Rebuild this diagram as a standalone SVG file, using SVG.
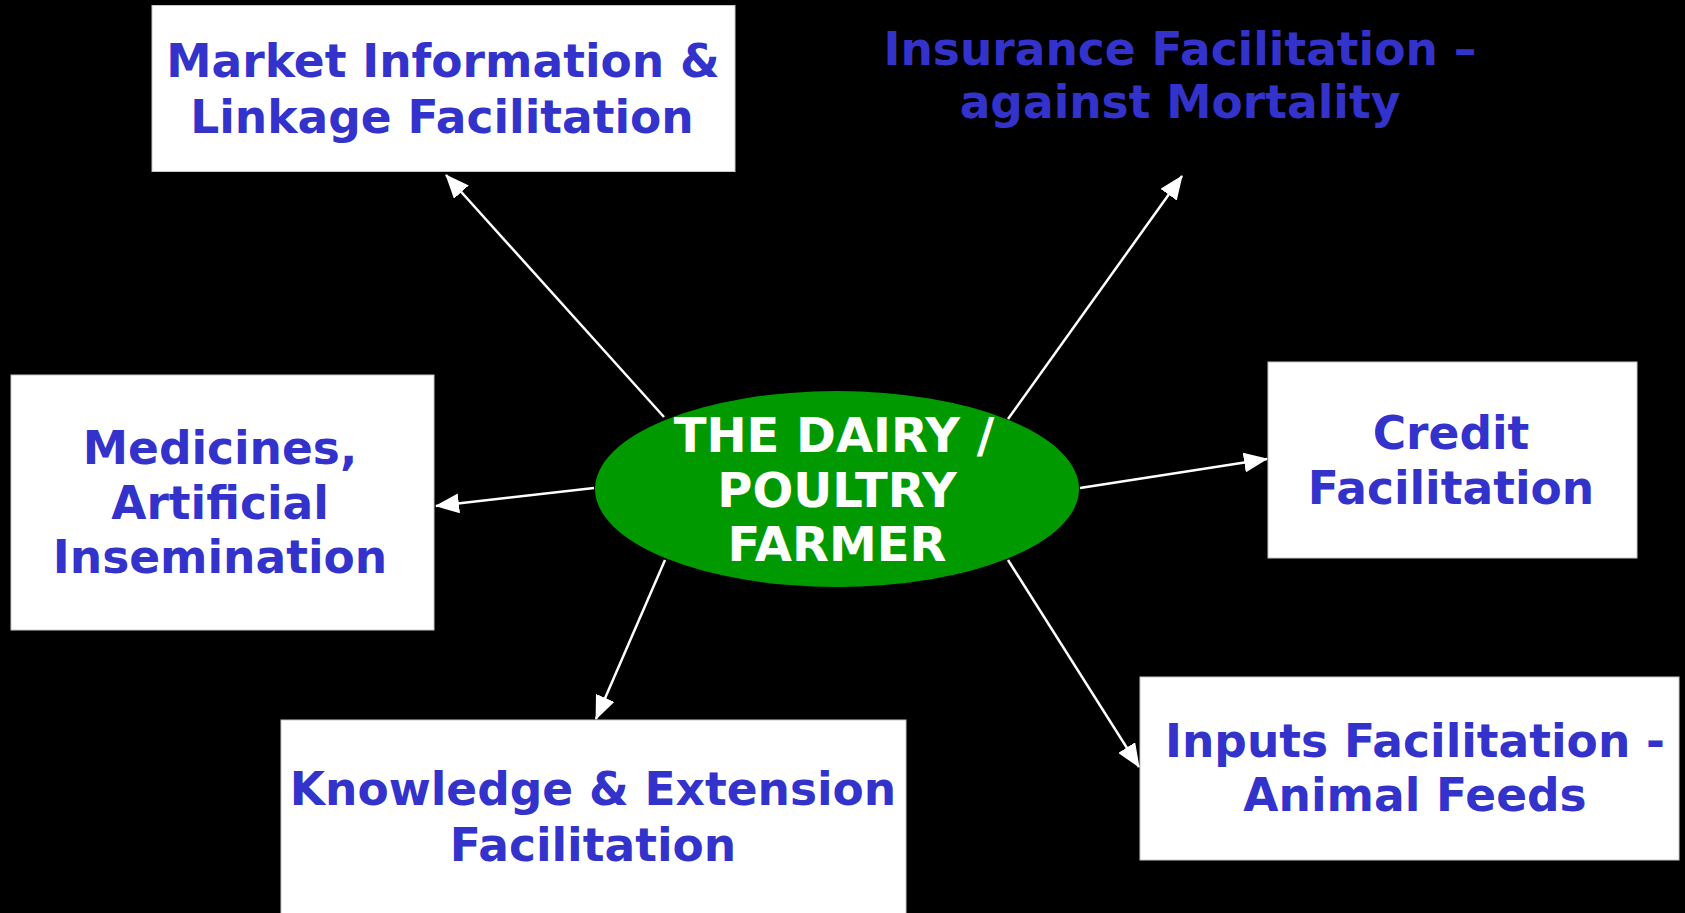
<svg xmlns="http://www.w3.org/2000/svg" width="1685" height="913" viewBox="0 0 1685 913">
<style>
.box{fill:#ffffff;stroke:#c8c8c8;stroke-width:1}
.t{font-family:"DejaVu Sans","Verdana",sans-serif;font-weight:bold;font-size:45.5px;fill:#3333cc;text-anchor:middle}
.w{font-family:"DejaVu Sans","Verdana",sans-serif;font-weight:bold;font-size:48px;fill:#ffffff;text-anchor:middle}
.c{stroke:#ffffff;stroke-width:2.5;fill:none;marker-end:url(#ah)}
</style>
<defs>
<marker id="ah" markerUnits="userSpaceOnUse" markerWidth="24" markerHeight="20" refX="23" refY="10" orient="auto" viewBox="0 0 24 20">
<path d="M0,0 L24,10 L0,20 z" fill="#ffffff"/>
</marker>
</defs>
<rect x="0" y="0" width="1685" height="913" fill="#000000"/>
<g id="connectors">
<line class="c" x1="664" y1="417" x2="446" y2="175"/>
<line class="c" x1="1008" y1="419" x2="1182" y2="176"/>
<line class="c" x1="594" y1="488" x2="436" y2="506"/>
<line class="c" x1="1080" y1="488" x2="1267" y2="459"/>
<line class="c" x1="665" y1="560" x2="596" y2="719"/>
<line class="c" x1="1008" y1="560" x2="1139" y2="767"/>
</g>
<g id="farmer">
<ellipse cx="837" cy="489" rx="242" ry="98" fill="#009900"/>
<text class="w" x="834" y="452">THE DAIRY /</text>
<text class="w" x="837" y="507">POULTRY</text>
<text class="w" x="837" y="561">FARMER</text>
</g>
<g id="market">
<rect class="box" x="152" y="5.5" width="583" height="166"/>
<text class="t" x="443" y="77">Market Information &amp;</text>
<text class="t" x="442" y="133">Linkage Facilitation</text>
</g>
<g id="insurance">
<text class="t" x="1180" y="65" font-size="47">Insurance Facilitation –</text>
<text class="t" x="1180" y="118" font-size="47">against Mortality</text>
</g>
<g id="medicines">
<rect class="box" x="11" y="375" width="423" height="255"/>
<text class="t" x="220" y="464">Medicines,</text>
<text class="t" x="220" y="519">Artificial</text>
<text class="t" x="220" y="573">Insemination</text>
</g>
<g id="credit">
<rect class="box" x="1268" y="362" width="369" height="196"/>
<text class="t" x="1451" y="449">Credit</text>
<text class="t" x="1451" y="504">Facilitation</text>
</g>
<g id="knowledge">
<rect class="box" x="281" y="720" width="625" height="200"/>
<text class="t" x="593" y="805">Knowledge &amp; Extension</text>
<text class="t" x="593" y="861">Facilitation</text>
</g>
<g id="inputs">
<rect class="box" x="1140" y="677" width="539" height="183"/>
<text class="t" x="1415" y="757">Inputs Facilitation -</text>
<text class="t" x="1415" y="811">Animal Feeds</text>
</g>
</svg>
